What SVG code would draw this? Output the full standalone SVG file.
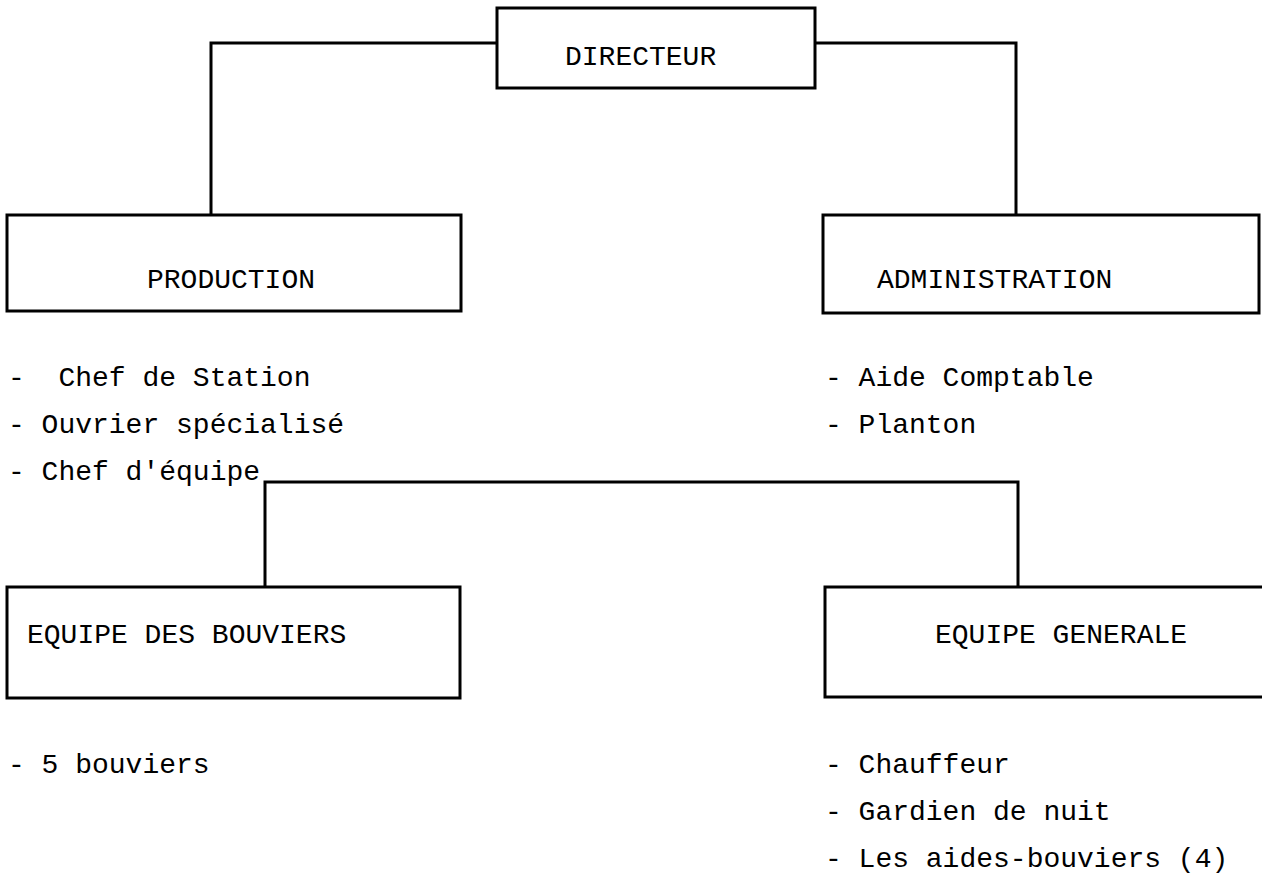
<svg xmlns="http://www.w3.org/2000/svg" width="1262" height="877" viewBox="0 0 1262 877">
<style>
  .box { fill: none; stroke: #000; stroke-width: 3; }
  .conn { fill: none; stroke: #000; stroke-width: 3; }
  text { font-family: "Liberation Mono", "Courier New", monospace; font-size: 28px; fill: #000; }
</style>
<rect width="1262" height="877" fill="#fff"/>
<g id="connectors">
  <polyline class="conn" points="211,215 211,43 497,43"/>
  <polyline class="conn" points="815,43 1016,43 1016,215"/>
  <polyline class="conn" points="265,587 265,482 1018,482 1018,587"/>
</g>
<g id="directeur">
  <rect class="box" x="497" y="8" width="318" height="80"/>
  <text x="565" y="65">DIRECTEUR</text>
</g>
<g id="production">
  <rect class="box" x="7" y="215" width="454" height="96"/>
  <text x="147" y="288">PRODUCTION</text>
  <text x="8" y="386" xml:space="preserve">-  Chef de Station</text>
  <text x="8" y="433">- Ouvrier spécialisé</text>
  <text x="8" y="480">- Chef d'équipe</text>
</g>
<g id="administration">
  <rect class="box" x="823" y="215" width="436" height="98"/>
  <text x="877" y="288">ADMINISTRATION</text>
  <text x="825" y="386">- Aide Comptable</text>
  <text x="825" y="433">- Planton</text>
</g>
<g id="equipe-bouviers">
  <rect class="box" x="7" y="587" width="453" height="111"/>
  <text x="27" y="643">EQUIPE DES BOUVIERS</text>
  <text x="8" y="773">- 5 bouviers</text>
</g>
<g id="equipe-generale">
  <rect class="box" x="825" y="587" width="440" height="110"/>
  <text x="935" y="643">EQUIPE GENERALE</text>
  <text x="825" y="773">- Chauffeur</text>
  <text x="825" y="820">- Gardien de nuit</text>
  <text x="825" y="867">- Les aides-bouviers (4)</text>
</g>
</svg>
